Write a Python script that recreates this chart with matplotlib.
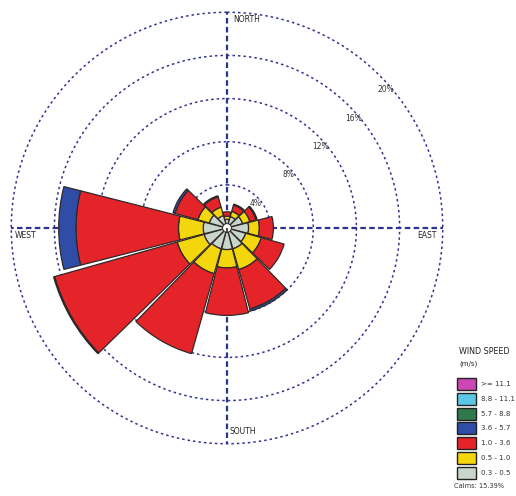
import numpy as np
import matplotlib
matplotlib.use("Agg")
import matplotlib.pyplot as plt
from matplotlib.patches import Rectangle

# ---- data -------------------------------------------------------------
directions = [0, 30, 60, 90, 120, 150, 180, 210, 240, 270, 300, 330]  # degrees (from north)
calm_offset = 0.4  # radius of the calm hole (%)
# frequency (%) per speed class and direction
f_03_05 = [0.4, 0.7, 1.1, 1.6, 1.4, 1.6, 1.6, 1.6, 1.8, 1.8, 1.3, 0.8]
f_05_10 = [0.3, 0.5, 0.7, 1.0, 1.5, 2.0, 1.7, 2.4, 2.6, 2.3, 1.1, 0.8]
f_10_36 = [0.4, 0.6, 0.6, 1.3, 2.2, 3.8, 4.4, 7.7, 11.8, 9.5, 2.2, 1.0]
f_36_57 = [0.0, 0.1, 0.1, 0.0, 0.0, 0.2, 0.0, 0.0, 0.1, 1.6, 0.2, 0.1]
f_57_88 = [0.0] * 12
f_88_111 = [0.0] * 12
f_111 = [0.0] * 12

speed_series = [f_03_05, f_05_10, f_10_36, f_36_57, f_57_88, f_88_111, f_111]
speed_labels = ["0.3 - 0.5", "0.5 - 1.0", "1.0 - 3.6", "3.6 - 5.7",
                "5.7 - 8.8", "8.8 - 11.1", ">= 11.1"]
speed_colors = ["#c8d6cc", "#f4d60c", "#e5242a", "#2f4da6",
                "#2e7a4c", "#5cc6e6", "#cc46b4"]
rings = [4, 8, 12, 16, 20]
ring_labels = ["4%", "8%", "12%", "16%", "20%"]
calms_text = "Calms: 15.39%"

# ---- figure -----------------------------------------------------------
W, H = 516, 496
fig = plt.figure(figsize=(W / 100, H / 100), dpi=100)
cx, cy, R = 227, 228, 219
rmax = 20.3
ax = fig.add_axes([(cx - R) / W, (H - cy - R) / H, 2 * R / W, 2 * R / H],
                  projection="polar")
ax.set_theta_zero_location("N")
ax.set_theta_direction(-1)
ax.set_ylim(0, rmax)
ax.set_xticks([])
ax.set_yticks([])
ax.grid(False)
ax.spines["polar"].set_visible(False)
ax.patch.set_alpha(0)

navy = "#2f3390"
t = np.linspace(0, 2 * np.pi, 400)
for r in rings:
    ax.plot(t, np.full_like(t, r), color=navy, lw=1.1,
            ls=(0, (1.6, 2.0)), zorder=1)
for a in [0, 90, 180, 270]:
    ax.plot([np.radians(a)] * 2, [0, 20], color=navy, lw=1.6,
            ls=(0, (2.5, 1.5)), zorder=1)

theta = np.radians(directions)
width = np.radians(28.5)
bottom = np.full(len(directions), calm_offset)
for vals, col in zip(speed_series, speed_colors):
    v = np.array(vals)
    mask = v > 0
    ax.bar(theta[mask], v[mask], width=width, bottom=bottom[mask],
           color=col, edgecolor="#302828", linewidth=0.9, zorder=3)
    bottom = bottom + v
ax.bar(0, calm_offset, width=2 * np.pi, bottom=0, color="white",
       edgecolor="#302828", linewidth=0.6, zorder=4)

for r, lab in zip(rings, ring_labels):
    ax.text(np.radians(49), r - 0.5, lab, fontsize=5.5, color="#333333",
            ha="center", va="center", zorder=5)

fs = 5.5
fig.text(233 / W, 1 - 19 / H, "NORTH", fontsize=fs, color="#222222", va="center")
fig.text(230 / W, 1 - 432 / H, "SOUTH", fontsize=fs, color="#222222", va="center")
fig.text(15 / W, 1 - 236 / H, "WEST", fontsize=fs, color="#222222", va="center")
fig.text(417 / W, 1 - 236 / H, "EAST", fontsize=fs, color="#222222", va="center")

# ---- legend -----------------------------------------------------------
fig.text(459 / W, 1 - 352 / H, "WIND SPEED", fontsize=5.8, color="#222222", va="center")
fig.text(459 / W, 1 - 364 / H, "(m/s)", fontsize=5, color="#222222", va="center")
for i, (lab, col) in enumerate(zip(speed_labels[::-1], speed_colors[::-1])):
    yc = 384 + i * 14.8
    fig.patches.append(Rectangle((457 / W, 1 - (yc + 6) / H), 19 / W, 12 / H,
                                 transform=fig.transFigure, facecolor=col,
                                 edgecolor="#222222", linewidth=1.0))
    fig.text(481 / W, 1 - yc / H, lab, fontsize=5, color="#333333", va="center")
fig.text(454 / W, 1 - 486 / H, calms_text, fontsize=4.8, color="#333333", va="center")

fig.savefig("out.png", dpi=100)
